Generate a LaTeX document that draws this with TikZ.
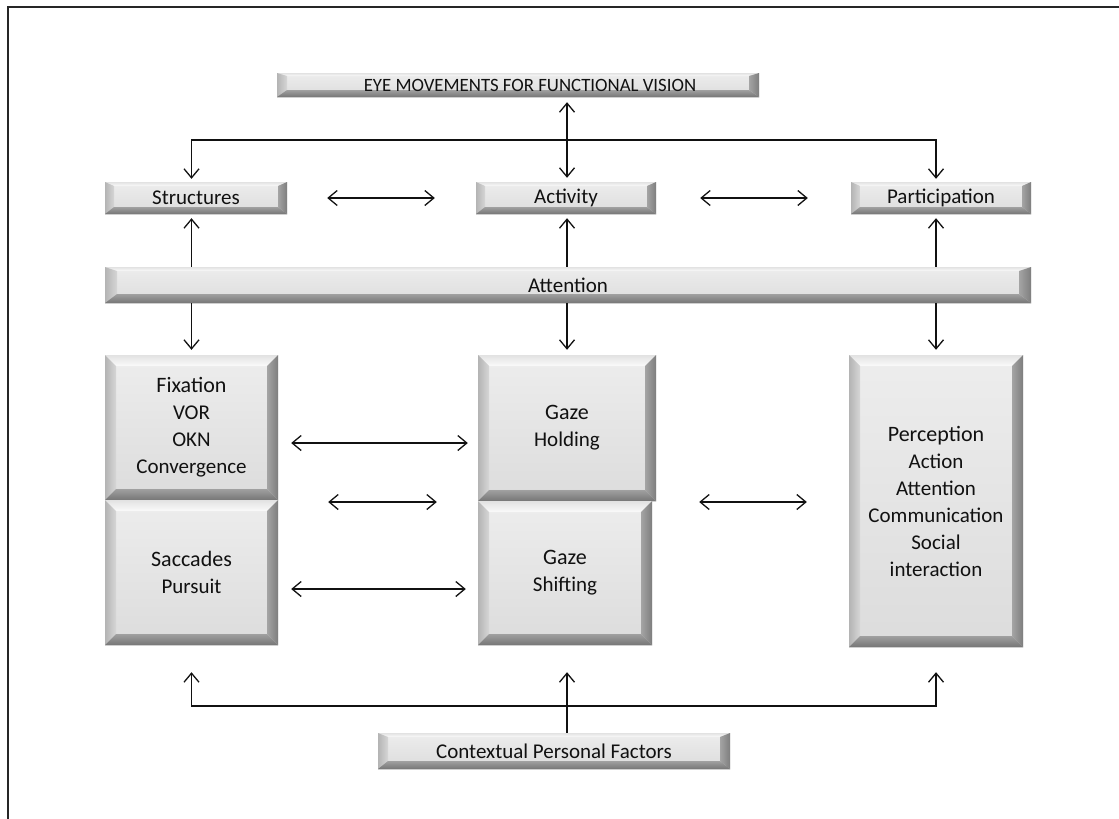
\documentclass[tikz,border=0pt]{standalone}
\usepackage{fontspec}
\setmainfont{Carlito}
\usetikzlibrary{arrows.meta}

\definecolor{inktext}{HTML}{111111}
\definecolor{facetop}{HTML}{EDEDED}
\definecolor{facebot}{HTML}{DCDCDC}
\definecolor{bevtopout}{HTML}{E2E2E2}
\definecolor{bevtopin}{HTML}{FAFAFA}
\definecolor{bevleftout}{HTML}{B4B4B4}
\definecolor{bevleftin}{HTML}{D6D6D6}
\definecolor{bevrightin}{HTML}{A4A4A4}
\definecolor{bevrightout}{HTML}{7E7E7E}
\definecolor{bevbotin}{HTML}{A0A0A0}
\definecolor{bevbotout}{HTML}{767676}

\tikzset{
  x=1pt, y=1pt,
  conn/.style={line width=1.3pt, draw=inktext},
  >={Straight Barb[length=9pt,width=15pt]},
  boxtext/.style={inner sep=0pt, align=center, text=inktext,
    font=\fontsize{21}{27}\selectfont},
}

% Bevelled box: name, x1, y1, x2, y2 (y measured downwards),
% side bevel, top bevel, bottom bevel, text
\newcommand\bevelbox[9]{%
  \shade[top color=facetop, bottom color=facebot]
    (#2,-#3) rectangle (#4,-#5);
  \shade[top color=bevtopout, bottom color=bevtopin]
    (#2,-#3) -- (#4,-#3) -- ({#4-#6},{-#3-#7}) -- ({#2+#6},{-#3-#7}) -- cycle;
  \shade[left color=bevleftout, right color=bevleftin]
    (#2,-#3) -- ({#2+#6},{-#3-#7}) -- ({#2+#6},{-#5+#8}) -- (#2,-#5) -- cycle;
  \shade[left color=bevrightin, right color=bevrightout]
    (#4,-#3) -- (#4,-#5) -- ({#4-#6},{-#5+#8}) -- ({#4-#6},{-#3-#7}) -- cycle;
  \shade[top color=bevbotin, bottom color=bevbotout]
    (#2,-#5) -- ({#2+#6},{-#5+#8}) -- ({#4-#6},{-#5+#8}) -- (#4,-#5) -- cycle;
  \node[boxtext, minimum width={(#4-#2)*1pt}, minimum height={(#5-#3)*1pt}]
    (#1) at ({(#2+#4)/2},{-(#3+#5)/2}) {#9};
}

\begin{document}
\begin{tikzpicture}
\useasboundingbox (0,0) rectangle (1119,-819);
\fill[white] (0,0) rectangle (1119,-819);

% outer frame
\draw[line width=2pt, black!85] (8,-819) -- (8,-7) -- (1119,-7);

% boxes
\bevelbox{title}{277}{73}{759}{97}{10}{3}{7}{\hspace*{24pt}\fontsize{18.8}{22}\selectfont EYE MOVEMENTS FOR FUNCTIONAL VISION}
\bevelbox{struct}{105}{182}{287}{214}{9}{4}{7}{Structures}
\bevelbox{activ}{476}{182}{656}{214}{9}{4}{7}{Activity}
\bevelbox{partic}{851}{182}{1031}{214}{9}{4}{7}{Participation}
\bevelbox{atten}{105}{267}{1031}{303}{12}{4}{9}{Attention}
\bevelbox{fix}{105}{355}{278}{500}{11}{11}{11}{\fontsize{22}{27}\selectfont Fixation\\VOR\\OKN\\Convergence}
\bevelbox{sacc}{105}{500}{278}{645}{11}{11}{11}{\fontsize{22}{27}\selectfont Saccades\\Pursuit}
\bevelbox{hold}{478}{355}{656}{501}{11}{11}{11}{\fontsize{22}{27}\selectfont Gaze\\Holding}
\bevelbox{shift}{478}{501}{652}{645}{11}{11}{11}{\fontsize{22}{27}\selectfont Gaze\\Shifting}
\bevelbox{perc}{849}{355}{1023}{647}{11}{11}{11}{\fontsize{22}{27.3}\selectfont Perception\\Action\\Attention\\Communication\\Social\\interaction}
\bevelbox{context}{378}{733}{730}{769}{10}{4}{8}{Contextual Personal Factors}

% guide rows for the connectors
\coordinate (topbus) at (0,-140);
\coordinate (botbus) at (0,-706);
\coordinate (rowa) at (0,-443);
\coordinate (rowb) at (0,-502);
\coordinate (rowc) at (0,-589);

% title <-> activity, and the branch to structures and participation
\draw[conn,<->,shorten <=5pt, shorten >=4pt] (title.south -| hold.north) -- (activ.north -| hold.north);
\draw[conn,<->] ([yshift=3pt]struct.north -| fix.north) -- (topbus -| fix.north)
  -- (topbus -| perc.north) -- ([yshift=3pt]partic.north -| perc.north);

% links along the top row
\draw[conn,<->,shorten <=40pt, shorten >=41pt] (struct.east) -- (activ.west);
\draw[conn,<->,shorten <=44pt, shorten >=43pt] (activ.east) -- (partic.west);

% attention to the top row and to the lower boxes
\draw[conn,->] (atten.north -| fix.north) -- ([yshift=-4pt]struct.south -| fix.north);
\draw[conn,->] (atten.north -| hold.north) -- ([yshift=-4pt]activ.south -| hold.north);
\draw[conn,->] (atten.north -| perc.north) -- ([yshift=-4pt]partic.south -| perc.north);
\draw[conn,->] (atten.south -| fix.north) -- ([yshift=5pt]fix.north);
\draw[conn,->] (atten.south -| hold.north) -- ([yshift=5pt]hold.north);
\draw[conn,->] (atten.south -| perc.north) -- ([yshift=5pt]perc.north);

% links between the lower boxes
\draw[conn,<->,shorten <=13pt, shorten >=10pt] (fix.east |- rowa) -- (hold.west |- rowa);
\draw[conn,<->,shorten <=50pt, shorten >=41pt] (fix.east |- rowb) -- (hold.west |- rowb);
\draw[conn,<->,shorten <=13pt, shorten >=12pt] (sacc.east |- rowc) -- (shift.west |- rowc);
\draw[conn,<->,shorten <=43pt, shorten >=42pt] (hold.east |- rowb) -- (perc.west |- rowb);

% contextual personal factors feeding the three columns
\draw[conn,<->] ([yshift=-27pt]sacc.south) -- (botbus -| sacc.south)
  -- (botbus -| perc.south) -- ([yshift=-25pt]perc.south);
\draw[conn,->] (context.north -| hold.south) -- ([yshift=-27pt]shift.south -| hold.south);
\end{tikzpicture}
\end{document}
